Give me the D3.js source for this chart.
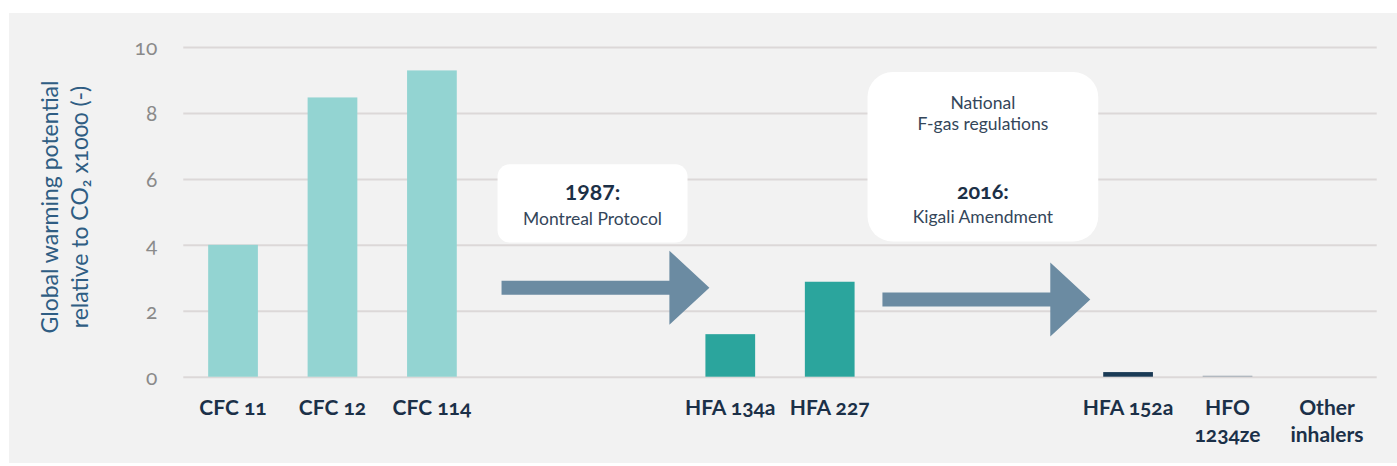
<!DOCTYPE html>
<html>
<head>
<meta charset="utf-8">
<script src="https://cdn.jsdelivr.net/npm/d3@7"></script>
<style>
  body { margin: 0; background: #fff; }
  svg text { font-family: Lato, "Open Sans", sans-serif; font-variant-numeric: oldstyle-nums; font-feature-settings: "onum" 1; }
</style>
</head>
<body>
<svg id="chart" width="1397" height="466"></svg>
<script>
// Data
var slots = ["CFC 11", "CFC 12", "CFC 114", "gap1", "gap2", "HFA 134a", "HFA 227", "gap3", "gap4", "HFA 152a", "HFO 1234ze", "Other inhalers"];
var labels = [["CFC 11"], ["CFC 12"], ["CFC 114"], [], [], ["HFA 134a"], ["HFA 227"], [], [], ["HFA 152a"], ["HFO", "1234ze"], ["Other", "inhalers"]];
var gwp = [4.0, 8.47, 9.29, null, null, 1.29, 2.88, null, null, 0.14, 0.03, 0];
var barColors = ["#93d4d2", "#93d4d2", "#93d4d2", null, null, "#2ba59d", "#2ba59d", null, null, "#1a3a55", "#9ea8b2", "#9ea8b2"];
var yTicks = [0, 2, 4, 6, 8, 10];
var yTitle = ["Global warming potential", "relative to CO\u2082  x1000 (-)"];

// annotations, positioned in slot units (x) and value units (y)
var arrows = [
  {from: 3.2, to: 5.29, y: 2.7},
  {from: 7.03, to: 9.12, y: 2.34}
];
var boxes = [
  {x0: 3.16, x1: 5.07, y0: 6.44, y1: 4.07, r: 12,
   lines: [{t: "1987:", bold: true, dy: 200, lining: true}, {t: "Montreal Protocol", dy: 225}]},
  {x0: 6.88, x1: 9.2, y0: 9.24, y1: 4.10, r: 25,
   lines: [{t: "National", dy: 109}, {t: "F-gas regulations", dy: 130}, {t: "2016:", bold: true, dy: 199}, {t: "Kigali Amendment", dy: 223}]}
];

var svg = d3.select("#chart");
var plotLeft = 183.3, plotRight = 1376.7, plotTop = 47, plotBottom = 376.7;

svg.append("rect").attr("x", 9).attr("y", 13).attr("width", 1388).attr("height", 450).attr("fill", "#f2f2f2");

var x = d3.scaleBand().domain(slots).range([plotLeft, plotRight]).paddingInner(0.5).paddingOuter(0.25);
var xPos = d3.scaleLinear().domain([0, slots.length]).range([plotLeft, plotRight]);
var y = d3.scaleLinear().domain([0, 10]).range([plotBottom, plotTop]);

// Gridlines + tick labels
var yAxis = svg.append("g").attr("transform", "translate(" + plotLeft + ",0)")
  .call(d3.axisLeft(y).tickValues(yTicks).tickSize(-(plotRight - plotLeft)).tickPadding(26));
yAxis.select(".domain").remove();
yAxis.selectAll(".tick line").attr("stroke", "#dcd8d8").attr("stroke-width", 2);
yAxis.selectAll(".tick text").attr("fill", "#8a8a8a").attr("font-size", 21)
  .style("font-family", "Lato, sans-serif").attr("dy", "0.36em");

// Bars
svg.selectAll(".bar")
  .data(slots.filter(function(d, i) { return gwp[i] > 0; }))
  .enter()
  .append("rect")
  .attr("class", "bar")
  .attr("x", function(d) { return x(d); })
  .attr("width", x.bandwidth())
  .attr("y", function(d) { return y(gwp[slots.indexOf(d)]); })
  .attr("height", function(d) { return y(0) - y(gwp[slots.indexOf(d)]); })
  .attr("fill", function(d) { return barColors[slots.indexOf(d)]; });

// Category labels
slots.forEach(function(s, i) {
  var t = svg.append("text")
    .attr("x", x(s) + x.bandwidth() / 2)
    .attr("y", 415)
    .attr("text-anchor", "middle")
    .attr("font-size", 21)
    .attr("font-weight", 700)
    .attr("fill", "#1b3048");
  labels[i].forEach(function(l, j) {
    t.append("tspan").attr("x", x(s) + x.bandwidth() / 2).attr("dy", j == 0 ? 0 : 27).text(l);
  });
});

// Arrows
arrows.forEach(function(a) {
  var x0 = xPos(a.from), x1 = xPos(a.to), yc = y(a.y);
  var headLen = 40, half = 7, headHalf = 37;
  var pts = [[x0, yc - half], [x1 - headLen, yc - half], [x1 - headLen, yc - headHalf], [x1, yc],
             [x1 - headLen, yc + headHalf], [x1 - headLen, yc + half], [x0, yc + half]];
  svg.append("path").attr("d", d3.line()(pts) + "Z").attr("fill", "#6b8ba2");
});

// Text boxes
boxes.forEach(function(b) {
  svg.append("rect")
    .attr("x", xPos(b.x0)).attr("y", y(b.y0))
    .attr("width", xPos(b.x1) - xPos(b.x0)).attr("height", y(b.y1) - y(b.y0))
    .attr("rx", b.r).attr("fill", "#ffffff");
  var cx = (xPos(b.x0) + xPos(b.x1)) / 2;
  b.lines.forEach(function(l) {
    svg.append("text")
      .attr("x", cx).attr("y", l.dy)
      .attr("text-anchor", "middle")
      .attr("font-size", l.bold ? 21.5 : 17.5)
      .attr("font-weight", l.bold ? 700 : 400)
      .attr("fill", l.bold ? "#1c3046" : "#34465a")
      .style("font-variant-numeric", l.lining ? "lining-nums" : "oldstyle-nums")
      .style("font-feature-settings", l.lining ? "normal" : "\"onum\" 1")
      .text(l.t);
  });
});

// Y title
var title = svg.append("text")
  .attr("transform", "translate(58,207) rotate(-90)")
  .attr("text-anchor", "middle")
  .attr("font-size", 23)
  .attr("fill", "#2f5d83");
yTitle.forEach(function(l, j) {
  title.append("tspan").attr("x", 0).attr("dy", j == 0 ? 0 : 30).text(l);
});
</script>
</body>
</html>
